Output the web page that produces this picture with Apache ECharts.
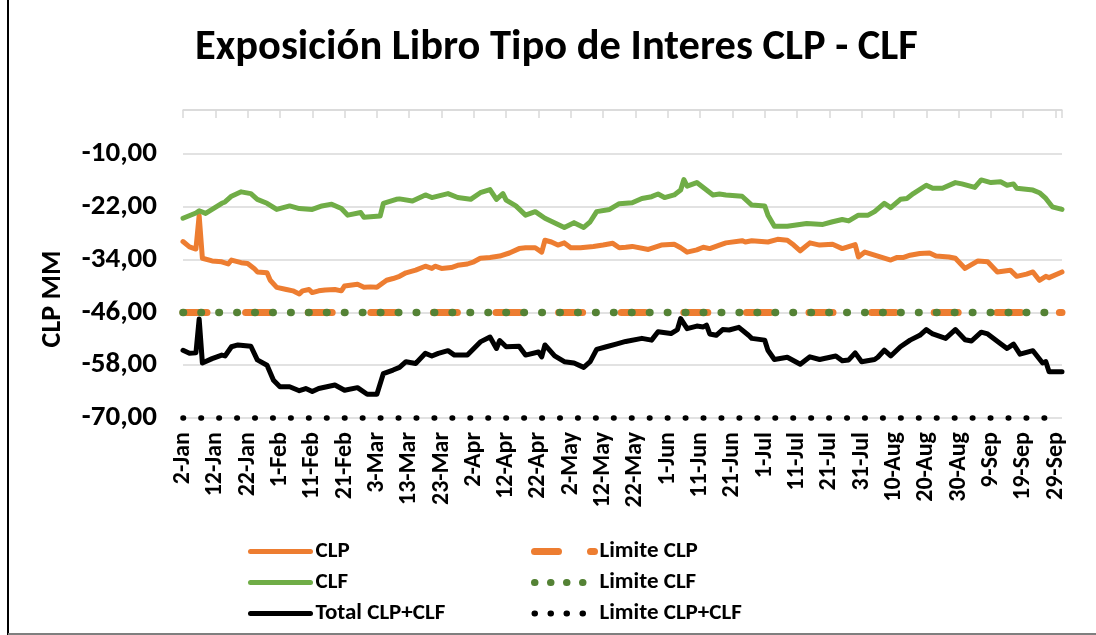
<!DOCTYPE html>
<html><head><meta charset="utf-8">
<script src="https://cdn.jsdelivr.net/npm/echarts@6/dist/echarts.min.js"></script>
<style>html,body{margin:0;padding:0;background:#fff}#c{width:1096px;height:635px}</style>
</head><body><div id="c"></div>
<script>
const FONT = 'Carlito, Lato, sans-serif';
const titleText = 'Exposición Libro Tipo de Interes CLP - CLF';
// x tick labels, every 10 days starting 2-Jan (x values are days since 2-Jan)
const xTickLabels = ['2-Jan','12-Jan','22-Jan','1-Feb','11-Feb','21-Feb','3-Mar','13-Mar','23-Mar','2-Apr','12-Apr','22-Apr','2-May','12-May','22-May','1-Jun','11-Jun','21-Jun','1-Jul','11-Jul','21-Jul','31-Jul','10-Aug','20-Aug','30-Aug','9-Sep','19-Sep','29-Sep'];
const lastDay = 272;

const clpDay = [0,2,4,5,6,9,12,14,15,18,20,22,23,26,27,29,32,34,36,37,39,40,42,44,47,49,50,54,56,58,60,63,65,67,69,72,75,77,78,80,83,85,88,90,92,95,98,101,104,106,109,111,112,114,116,118,120,123,127,130,133,135,137,139,144,148,152,154,156,159,161,163,166,168,173,174,176,181,184,187,189,191,194,197,201,204,208,209,211,214,219,221,223,225,228,231,233,237,239,242,246,249,252,256,258,261,263,265,267,268,272];
const clpVal = [-29.9,-31.1,-31.6,-24.0,-33.7,-34.3,-34.5,-35.0,-34.1,-34.7,-34.9,-36.0,-36.8,-37.0,-38.7,-40.3,-40.8,-41.1,-41.8,-41.1,-40.8,-41.5,-41.1,-40.9,-40.8,-41.1,-40.0,-39.6,-40.3,-40.2,-40.3,-38.7,-38.3,-37.8,-37.0,-36.4,-35.5,-36.0,-35.5,-36.0,-35.8,-35.3,-35.0,-34.5,-33.7,-33.5,-33.2,-32.5,-31.5,-31.3,-31.3,-32.3,-29.6,-30.0,-30.7,-30.2,-31.3,-31.3,-31.0,-30.7,-30.3,-31.3,-31.2,-31.0,-31.7,-30.7,-30.5,-31.3,-32.3,-31.8,-31.2,-31.5,-30.7,-30.2,-29.7,-30.0,-29.7,-30.0,-29.4,-29.6,-30.7,-32.0,-30.2,-30.7,-30.5,-31.5,-30.6,-33.4,-32.3,-33.0,-34.1,-33.5,-33.5,-33.0,-32.6,-32.5,-33.2,-33.4,-33.7,-36.0,-34.3,-34.5,-36.8,-36.4,-37.8,-37.3,-36.8,-38.7,-37.8,-38.1,-36.8];

const clfDay = [0,4,5,7,9,12,13,15,18,21,23,26,29,33,36,40,43,46,49,51,55,56,61,62,66,67,71,75,77,82,85,89,92,95,97,99,100,103,106,109,112,118,121,124,126,128,132,135,139,142,145,147,149,152,154,155,156,159,162,164,166,168,173,176,180,181,183,187,193,198,201,204,206,209,212,214,217,219,222,224,226,230,232,235,239,241,245,247,250,253,255,257,258,263,265,267,269,272];
const clfVal = [-24.6,-23.4,-22.9,-23.5,-22.6,-21.2,-20.9,-19.6,-18.6,-19.0,-20.3,-21.2,-22.6,-21.8,-22.4,-22.6,-21.8,-21.4,-22.4,-23.9,-23.3,-24.4,-24.1,-21.2,-20.3,-20.2,-20.7,-19.3,-19.9,-19.0,-19.9,-20.3,-18.8,-18.1,-20.3,-19.0,-20.5,-21.8,-23.9,-23.1,-24.6,-26.7,-25.6,-26.7,-25.4,-23.1,-22.6,-21.3,-21.1,-20.1,-19.7,-19.1,-19.9,-19.3,-18.2,-15.8,-17.3,-16.5,-18.2,-19.3,-19.1,-19.3,-19.6,-21.6,-21.8,-23.9,-26.4,-26.4,-25.8,-26.0,-25.4,-24.9,-25.2,-23.9,-23.9,-23.1,-21.2,-22.2,-20.3,-20.1,-19.0,-17.1,-17.8,-17.8,-16.5,-16.8,-17.6,-15.9,-16.5,-16.3,-17.1,-16.8,-17.8,-18.2,-18.8,-20.1,-22.0,-22.6];

const totalDay = [0,2,4,5,6,9,12,13,15,17,21,23,26,28,30,33,36,38,40,42,47,50,54,57,60,62,65,67,69,72,75,77,79,82,84,88,92,95,97,98,100,104,106,110,111,112,115,118,121,124,126,128,131,134,137,142,145,147,151,153,154,156,159,161,162,163,165,167,169,172,175,176,180,181,183,187,191,194,197,202,204,206,208,210,214,215,217,219,222,225,228,230,232,236,239,242,244,247,249,253,255,257,259,263,266,267,268,272];
const totalVal = [-54.6,-55.3,-55.2,-47.5,-57.5,-56.5,-55.7,-55.9,-53.8,-53.4,-53.7,-56.8,-58.0,-61.4,-62.9,-62.9,-63.8,-63.3,-64.0,-63.3,-62.5,-63.7,-63.1,-64.6,-64.6,-59.9,-59.1,-58.5,-57.2,-57.6,-55.3,-55.9,-55.3,-54.7,-55.7,-55.7,-52.7,-51.6,-54.2,-52.4,-53.8,-53.7,-55.7,-55.0,-56.1,-53.4,-55.9,-57.2,-57.5,-58.5,-57.2,-54.4,-53.8,-53.2,-52.6,-51.9,-52.3,-50.4,-50.8,-49.9,-47.4,-49.7,-49.1,-49.3,-48.9,-50.9,-51.2,-49.9,-50.0,-49.4,-51.2,-51.9,-52.3,-54.6,-56.7,-56.2,-57.8,-56.1,-56.7,-55.9,-57.0,-56.8,-55.2,-57.2,-56.7,-56.2,-54.6,-55.9,-53.8,-52.3,-51.2,-49.9,-50.9,-51.9,-49.9,-52.2,-52.5,-50.5,-50.9,-53.1,-54.2,-53.2,-55.5,-54.7,-57.5,-57.2,-59.5,-59.5];

const limitDay = [0, 272];
const limitClpVal = [-46, -46];
const limitClfVal = [-46, -46];
const limitTotalVal = [-70, -70];

const pairs = (d, v) => d.map((x, i) => [x, v[i]]);
const bold = { fontFamily: FONT, fontWeight: 'bold', color: '#000' };
const ORANGE = '#ED7D31', GREEN = '#70AD47', DGREEN = '#548235';

const chart = echarts.init(document.getElementById('c'), null, { renderer: 'canvas' });
chart.setOption({
  animation: false,
  backgroundColor: '#ffffff',
  title: {
    text: titleText, left: 195, top: 27, padding: 0,
    textStyle: Object.assign({ fontSize: 42.5 }, bold)
  },
  grid: { left: 183, right: 34, top: 110, bottom: 217 },
  xAxis: [{
    type: 'value', min: 0, max: lastDay, interval: 10, position: 'bottom',
    axisLine: { show: false, onZero: false }, axisTick: { show: false }, splitLine: { show: false },
    axisLabel: Object.assign({ rotate: 90, margin: 14, fontSize: 24, showMaxLabel: false,
      formatter: v => (v % 10 === 0 && xTickLabels[v / 10]) ? xTickLabels[v / 10] : '' }, bold)
  }, {
    type: 'value', min: 0, max: lastDay, interval: 10, position: 'top',
    axisLine: { show: true, onZero: false, lineStyle: { color: '#d9d9d9', width: 1.5 } },
    axisTick: { show: true, inside: true, length: 8, lineStyle: { color: '#d9d9d9', width: 1.5 } },
    axisLabel: { show: false }, splitLine: { show: false }
  }],
  yAxis: {
    type: 'value', min: -70, max: 0, interval: 12,
    axisLine: { show: false }, axisTick: { show: false },
    splitLine: { lineStyle: { color: '#d9d9d9', width: 1.5 } },
    axisLabel: Object.assign({ margin: 26, fontSize: 29,
      formatter: v => v === 0 ? '' : v.toFixed(2).replace('.', ',') }, bold),
    name: 'CLP MM', nameLocation: 'middle', nameGap: 116, nameRotate: 90,
    nameTextStyle: Object.assign({ fontSize: 28, padding: [0, 70, 0, 0] }, bold)
  },
  legend: [{
    orient: 'vertical', left: 248, top: 540, padding: 0, itemWidth: 60, itemHeight: 14, itemGap: 8,
    itemStyle: { opacity: 0, borderWidth: 0 },
    lineStyle: { width: 5, cap: 'round' },
    data: ['CLP', 'CLF', 'Total CLP+CLF'], textStyle: Object.assign({ fontSize: 23 }, bold)
  }, {
    orient: 'vertical', left: 531, top: 540, padding: 0, itemWidth: 60, itemHeight: 14, itemGap: 8,
    itemStyle: { opacity: 0, borderWidth: 0 },
    data: [
      { name: 'Limite CLP', lineStyle: { width: 7, type: [24, 32], cap: 'round' } },
      { name: 'Limite CLF', lineStyle: { width: 7, type: [0.5, 15.5], cap: 'round' } },
      { name: 'Limite CLP+CLF', lineStyle: { width: 6, type: [0.5, 15.5], cap: 'round' } }
    ],
    textStyle: Object.assign({ fontSize: 23 }, bold)
  }],
  graphic: [
    { type: 'line', shape: { x1: 8, y1: 0, x2: 8, y2: 635 }, style: { stroke: '#000', lineWidth: 2 } },
    { type: 'line', shape: { x1: 8, y1: 634, x2: 1096, y2: 634 }, style: { stroke: '#7f7f7f', lineWidth: 2 } }
  ],
  series: [
    { name: 'CLP', type: 'line', data: pairs(clpDay, clpVal), symbol: 'none', clip: false,
      itemStyle: { color: ORANGE }, lineStyle: { color: ORANGE, width: 5, cap: 'round', join: 'round' } },
    { name: 'Limite CLP', type: 'line', data: pairs(limitDay, limitClpVal), symbol: 'none', clip: false,
      itemStyle: { color: ORANGE }, lineStyle: { color: ORANGE, width: 7, type: [24, 38.6], cap: 'round' } },
    { name: 'CLF', type: 'line', data: pairs(clfDay, clfVal), symbol: 'none', clip: false,
      itemStyle: { color: GREEN }, lineStyle: { color: GREEN, width: 5, cap: 'round', join: 'round' } },
    { name: 'Limite CLF', type: 'line', data: pairs(limitDay, limitClfVal), symbol: 'none', clip: false,
      itemStyle: { color: DGREEN }, lineStyle: { color: DGREEN, width: 7.5, type: [0.5, 17.44], cap: 'round' } },
    { name: 'Total CLP+CLF', type: 'line', data: pairs(totalDay, totalVal), symbol: 'none', clip: false,
      itemStyle: { color: '#000' }, lineStyle: { color: '#000', width: 5, cap: 'round', join: 'round' } },
    { name: 'Limite CLP+CLF', type: 'line', data: pairs(limitDay, limitTotalVal), symbol: 'none', clip: false,
      itemStyle: { color: '#000' }, lineStyle: { color: '#000', width: 5.5, type: [0.5, 17.44], cap: 'round' } }
  ]
});
</script></body></html>
